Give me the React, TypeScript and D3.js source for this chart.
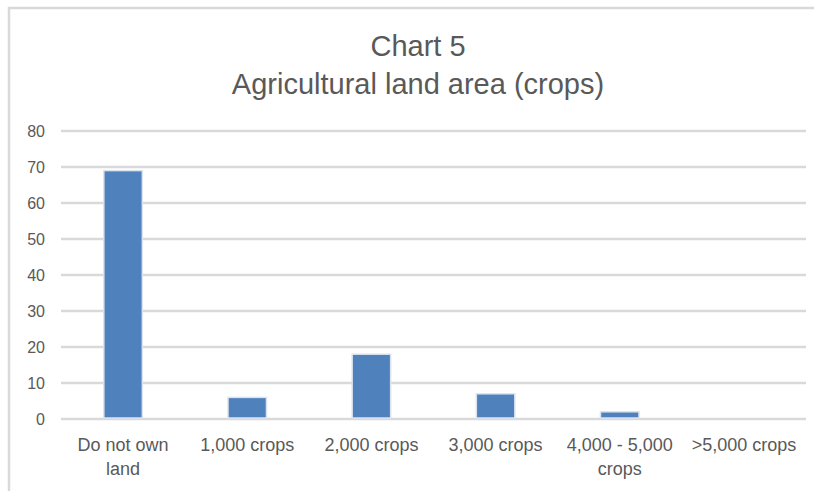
import React from "react";
import * as d3 from "d3";

const categories: string[][] = [
  ["Do not own", "land"],
  ["1,000 crops"],
  ["2,000 crops"],
  ["3,000 crops"],
  ["4,000 - 5,000", "crops"],
  [">5,000 crops"],
];
const values: number[] = [69, 6, 18, 7, 2, 0];
const yTicks: number[] = [0, 10, 20, 30, 40, 50, 60, 70, 80];
const titleLines: string[] = ["Chart 5", "Agricultural land area (crops)"];

const W = 814;
const H = 491;
const left = 61;
const right = 806;
const top = 131;
const bottom = 419;
const FONT = "'Liberation Sans', Arial, sans-serif";
const TEXT = "#595959";
const GRID = "#d9d9d9";

export default function App() {
  const x = d3
    .scaleBand<number>()
    .domain(d3.range(categories.length))
    .range([left, right])
    .paddingInner(0.69)
    .paddingOuter(0.345);
  const y = d3.scaleLinear().domain([0, 80]).range([bottom, top]);
  const cx = (i: number) => (x(i) as number) + x.bandwidth() / 2;

  return (
    <svg
      width={W}
      height={H}
      style={{ position: "absolute", left: 0, top: 0, background: "#fff" }}
      fontFamily={FONT}
    >
      <rect x={0} y={0} width={W} height={H} fill="#fff" />
      <rect x={9} y={8} width={W + 20} height={H + 20} fill="none" stroke={GRID} strokeWidth={2.5} />
      <text x={418} y={56} textAnchor="middle" fontSize={29} fill={TEXT}>
        {titleLines[0]}
      </text>
      <text x={418} y={94} textAnchor="middle" fontSize={29} fill={TEXT}>
        {titleLines[1]}
      </text>
      {yTicks.map((t) => (
        <g key={t}>
          <line x1={left} x2={right} y1={y(t)} y2={y(t)} stroke={GRID} strokeWidth={2.5} />
          <text
            x={45}
            y={y(t)}
            dy="0.36em"
            textAnchor="end"
            fontSize={16}
            fill={TEXT}
          >
            {t}
          </text>
        </g>
      ))}
      {values.map((v, i) =>
        v > 0 ? (
          <rect
            key={i}
            x={x(i)}
            y={y(v)}
            width={x.bandwidth()}
            height={y(0) - y(v) - 1}
            fill="#4f81bd"
            stroke="#dbe3ef"
            strokeWidth={1.5}
          />
        ) : null
      )}
      {categories.map((lines, i) => (
        <text key={i} textAnchor="middle" fontSize={18} fill={TEXT}>
          {lines.map((l, j) => (
            <tspan key={j} x={cx(i)} y={451 + j * 24}>
              {l}
            </tspan>
          ))}
        </text>
      ))}
    </svg>
  );
}
